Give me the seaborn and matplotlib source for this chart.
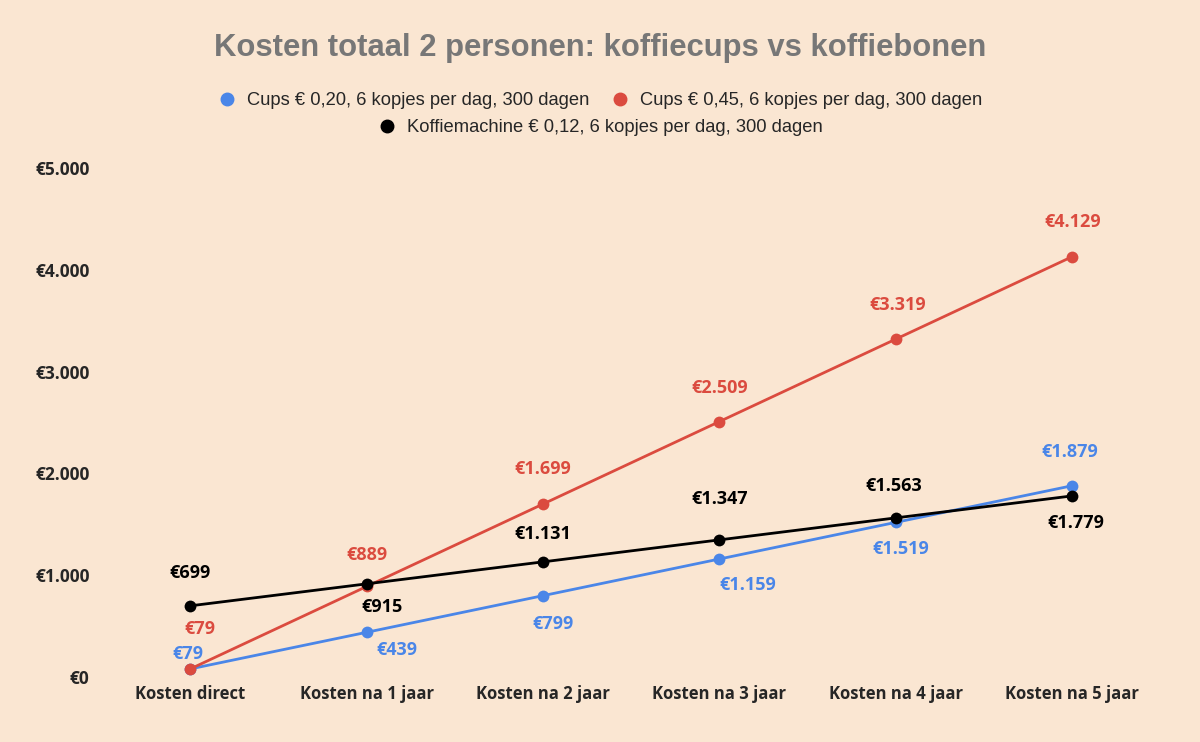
import pandas as pd
import matplotlib.pyplot as plt
import seaborn as sns
from matplotlib.lines import Line2D

# data
categories = ['Kosten direct', 'Kosten na 1 jaar', 'Kosten na 2 jaar',
              'Kosten na 3 jaar', 'Kosten na 4 jaar', 'Kosten na 5 jaar']
cups_020 = [79, 439, 799, 1159, 1519, 1879]
cups_045 = [79, 889, 1699, 2509, 3319, 4129]
machine = [699, 915, 1131, 1347, 1563, 1779]
series_names = ['Cups € 0,20, 6 kopjes per dag, 300 dagen',
                'Cups € 0,45, 6 kopjes per dag, 300 dagen',
                'Koffiemachine € 0,12, 6 kopjes per dag, 300 dagen']
y_ticks = [0, 1000, 2000, 3000, 4000, 5000]
y_tick_labels = ['€0', '€1.000', '€2.000', '€3.000', '€4.000', '€5.000']

bg = '#FAE6D2'
colors = ['#4A86E8', '#DB4B3F', '#000000']

rows = []
for name, vals in zip(series_names, [cups_020, cups_045, machine]):
    for i, v in enumerate(vals):
        rows.append({'pos': i, 'kosten': v, 'serie': name})
df = pd.DataFrame(rows)

sns.set_style('white')
plt.rcParams['font.family'] = ['Liberation Sans', 'DejaVu Sans']
lab_font = ['Open Sans', 'DejaVu Sans']

fig = plt.figure(figsize=(12, 7.42), dpi=100, facecolor=bg)
ax = fig.add_axes([0.085, 0.0876, 0.882, 0.686])
ax.set_facecolor(bg)

sns.lineplot(data=df, x='pos', y='kosten', hue='serie', palette=colors,
             hue_order=series_names, marker='o', markersize=8.5,
             markeredgewidth=0, linewidth=2, ax=ax, legend=False)

ax.set_xlim(-0.5, 5.5)
ax.set_ylim(0, 5000)
ax.set_xticks(range(len(categories)))
ax.set_xticklabels(categories, fontweight='bold', fontsize=12,
                   family=lab_font)
ax.set_yticks(y_ticks)
ax.set_yticklabels(y_tick_labels, fontweight='bold', fontsize=12.5,
                   family=lab_font)
ax.tick_params(axis='both', length=0)
ax.tick_params(axis='y', pad=9)
ax.tick_params(axis='x', pad=6)
ax.set_xlabel('')
ax.set_ylabel('')
for s in ax.spines.values():
    s.set_visible(False)

# label offsets in pixels (dx, dy)
offsets = [
    [(-2, 15), (30, -18), (10, -28), (28, -26), (5, -27), (-2, 34)],
    [(10, 40), (0, 31), (0, 35), (0, 34), (2, 34), (0, 35)],
    [(0, 33), (15, -23), (0, 28), (0, 41), (-2, 32), (4, -27)],
]
for vals, col, offs in zip([cups_020, cups_045, machine], colors, offsets):
    for i, v in enumerate(vals):
        txt = '€' + f'{v:,}'.replace(',', '.')
        ax.annotate(txt, (i, v), xytext=offs[i], textcoords='offset pixels',
                    ha='center', va='center', color=col, fontsize=13,
                    fontweight='bold', family=lab_font)

fig.text(0.5, 0.935, 'Kosten totaal 2 personen: koffiecups vs koffiebonen',
         ha='center', va='center', fontsize=22.3, fontweight='bold',
         color='#777777')

handles = [Line2D([], [], marker='o', linestyle='', color=c, markersize=9)
           for c in colors]
fig.legend(handles[:2], series_names[:2], loc='center',
           bbox_to_anchor=(0.5, 0.864), ncol=2, frameon=False,
           fontsize=13.2, handletextpad=0.6, columnspacing=1.2,
           handlelength=1)
fig.legend(handles[2:], series_names[2:], loc='center',
           bbox_to_anchor=(0.5, 0.828), frameon=False, fontsize=13.2,
           handletextpad=0.6, handlelength=1)

fig.savefig('out.png', dpi=100, facecolor=bg)
